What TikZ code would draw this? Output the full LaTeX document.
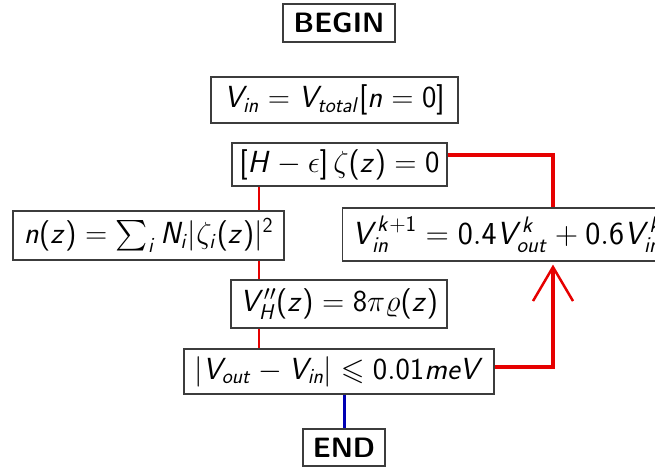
\RequirePackage{fix-cm}
\documentclass[tikz,border=0pt]{standalone}
\usepackage{amssymb}
\usetikzlibrary{arrows.meta}
\DeclareSymbolFont{sfletters}{OT1}{cmss}{m}{sl}
\SetSymbolFont{operators}{normal}{OT1}{cmss}{m}{n}
\DeclareMathSymbol{V}{\mathalpha}{sfletters}{`V}
\DeclareMathSymbol{H}{\mathalpha}{sfletters}{`H}
\DeclareMathSymbol{N}{\mathalpha}{sfletters}{`N}
\DeclareMathSymbol{i}{\mathalpha}{sfletters}{`i}
\DeclareMathSymbol{n}{\mathalpha}{sfletters}{`n}
\DeclareMathSymbol{t}{\mathalpha}{sfletters}{`t}
\DeclareMathSymbol{o}{\mathalpha}{sfletters}{`o}
\DeclareMathSymbol{a}{\mathalpha}{sfletters}{`a}
\DeclareMathSymbol{l}{\mathalpha}{sfletters}{`l}
\DeclareMathSymbol{z}{\mathalpha}{sfletters}{`z}
\DeclareMathSymbol{k}{\mathalpha}{sfletters}{`k}
\DeclareMathSymbol{u}{\mathalpha}{sfletters}{`u}
\DeclareMathSymbol{m}{\mathalpha}{sfletters}{`m}
\DeclareMathSymbol{e}{\mathalpha}{sfletters}{`e}
\definecolor{boxgray}{RGB}{60,60,60}
\definecolor{linered}{RGB}{230,0,0}
\definecolor{lineblue}{RGB}{0,0,180}
\begin{document}
\begin{tikzpicture}[x=1pt,y=1pt,
  box/.style={draw=boxgray, line width=1.2pt, inner sep=0pt, fill=white,
    font=\fontsize{30.5}{34}\selectfont},
  termbox/.style={box, font=\fontsize{28}{32}\selectfont\sffamily\bfseries},
  thinred/.style={draw=linered, line width=2pt},
  thickred/.style={draw=linered, line width=4.5pt},
  blueline/.style={draw=lineblue, line width=3pt}]
\useasboundingbox (0,0) rectangle (655,468);
\clip (0,0) rectangle (655,468);
\coordinate (cx) at (259,0);
\coordinate (ra) at (553,313);
\coordinate (rb) at (553,101);
\node[termbox, minimum width=112pt, minimum height=38pt] (begin) at (339,445) {BEGIN};
\node[box, minimum width=247pt, minimum height=46pt] (vin) at (334.5,368) {$V_{in} = V_{total}[n=0]$};
\node[box, minimum width=215pt, minimum height=43pt] (hz) at (339.5,303.5) {$[H-\epsilon]\,\zeta(z) = 0$};
\node[box, minimum width=271pt, minimum height=49pt] (nz) at (148.5,232.5) {$n(z) = \sum_i N_i|\zeta_i(z)|^2$};
\node[box, font=\fontsize{32}{36}\selectfont, minimum height=53pt, inner xsep=9.5pt, anchor=west] (mix) at (342,233.5) {$V_{in}^{k+1} = 0.4V_{out}^{k} + 0.6V_{in}^{k}$};
\node[box, minimum width=216pt, minimum height=48pt] (vh) at (339,164) {$V''_H(z) = 8\pi\varrho(z)$};
\node[box, minimum width=310pt, minimum height=45pt] (cond) at (339,96.5) {$|V_{out} - V_{in}| \leqslant 0.01meV$};
\node[termbox, minimum width=82pt, minimum height=37pt] (end) at (344,20.5) {END};
\draw[thinred] (hz.south -| cx) -- (nz.north -| cx);
\draw[thinred] (nz.south -| cx) -- (vh.north -| cx);
\draw[thinred] (vh.south -| cx) -- (cond.north -| cx);
\draw[thickred] (hz.east |- ra) -- (ra) -- (mix.north -| ra);
\draw[thickred, -{Straight Barb[length=34pt,width=40pt,line width=2.5pt]}] (cond.east |- rb) -- (rb) -- ([yshift=-3pt]mix.south -| rb);
\draw[blueline] (cond.south -| end.north) -- (end.north);
\end{tikzpicture}
\end{document}
